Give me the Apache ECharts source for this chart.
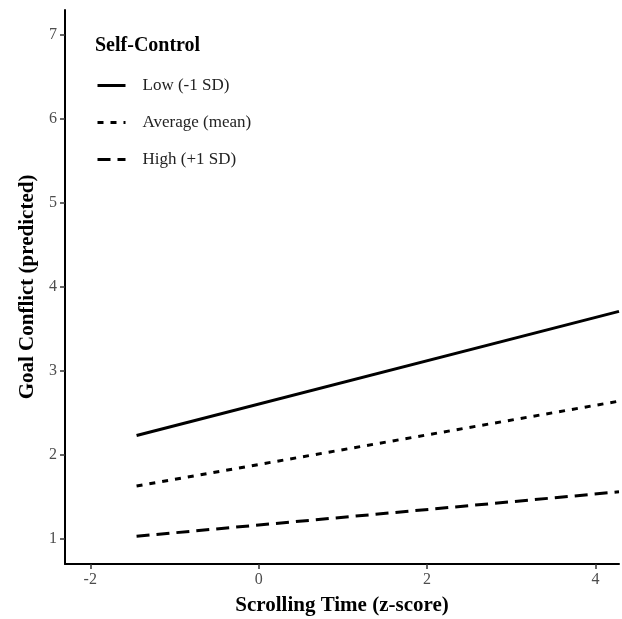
<!DOCTYPE html>
<html>
<head>
<meta charset="utf-8">
<script src="https://cdn.jsdelivr.net/npm/echarts@6/dist/echarts.min.js"></script>
<style>html,body{margin:0;padding:0;background:#fff}#c{width:622px;height:619px}</style>
</head>
<body>
<div id="c"></div>
<script>
const xTicks = [-2, 0, 2, 4];
const yTicks = [1, 2, 3, 4, 5, 6, 7];
const seriesNames = ['Low (-1 SD)', 'Average (mean)', 'High (+1 SD)'];
const scrollX = [-1.45, 4.28];
const lowValues = [2.23, 3.71];
const avgValues = [1.63, 2.64];
const highValues = [1.03, 1.56];

const font = 'Liberation Serif, Times New Roman, serif';
function pts(ys) { return scrollX.map((x, i) => [x, ys[i]]); }
const dash = ['solid', [6, 7], [13, 7]];
const vals = [lowValues, avgValues, highValues];

const chart = echarts.init(document.getElementById('c'));
chart.setOption({
  animation: false,
  backgroundColor: '#fff',
  title: {
    text: 'Self-Control', left: 90, top: 31,
    textStyle: { fontFamily: font, fontWeight: 'bold', fontSize: 20, color: '#000' }
  },
  legend: {
    orient: 'vertical', left: 91, top: 72,
    itemWidth: 28, itemHeight: 14, itemGap: 20,
    data: seriesNames,
    itemStyle: { opacity: 0 },
    lineStyle: { width: 3 },
    textStyle: { fontFamily: font, fontSize: 17, color: '#222', padding: [0, 0, 0, 12] }
  },
  grid: { left: 65, right: 3, top: 10, bottom: 55, containLabel: false, outerBoundsMode: 'none' },
  xAxis: {
    type: 'value', min: -2.3, max: 4.28,
    name: 'Scrolling Time (z-score)', nameLocation: 'middle', nameGap: 31,
    nameTextStyle: { fontFamily: font, fontWeight: 'bold', fontSize: 21, color: '#000' },
    axisLine: { show: true, onZero: false, lineStyle: { color: '#000', width: 2 } },
    axisTick: { show: true, customValues: xTicks, length: 5, lineStyle: { color: '#333', width: 1.5 } },
    axisLabel: { customValues: xTicks, fontFamily: font, fontSize: 16, color: '#4d4d4d', margin: 8 },
    splitLine: { show: false }
  },
  yAxis: {
    type: 'value', min: 0.7, max: 7.3,
    name: 'Goal Conflict (predicted)', nameLocation: 'middle', nameGap: 26,
    nameTextStyle: { fontFamily: font, fontWeight: 'bold', fontSize: 21, color: '#000' },
    axisLine: { show: true, onZero: false, lineStyle: { color: '#000', width: 2 } },
    axisTick: { show: true, customValues: yTicks, length: 5, lineStyle: { color: '#333', width: 1.5 } },
    axisLabel: { customValues: yTicks, fontFamily: font, fontSize: 16, color: '#4d4d4d', margin: 8 },
    splitLine: { show: false }
  },
  series: seriesNames.map((n, i) => ({
    name: n, type: 'line', data: pts(vals[i]),
    symbol: 'none', showSymbol: false,
    lineStyle: { color: '#000', width: 3, type: dash[i] },
    itemStyle: { color: '#000' }
  }))
});
</script>
</body>
</html>
